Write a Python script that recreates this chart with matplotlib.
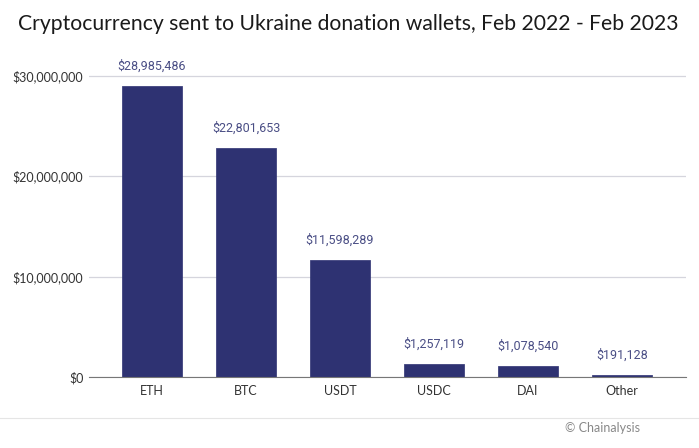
import matplotlib
matplotlib.use("Agg")
import matplotlib.pyplot as plt

coins = ["ETH", "BTC", "USDT", "USDC", "DAI", "Other"]
sent = [28985486, 22801653, 11598289, 1257119, 1078540, 191128]
yticks = [0, 10000000, 20000000, 30000000]
ytick_labels = ["$0", "$10,000,000", "$20,000,000", "$30,000,000"]

plt.rcParams['font.family'] = ['Lato', 'DejaVu Sans']

fig = plt.figure(figsize=(6.99, 4.48), dpi=100)
ax = fig.add_axes([89 / 699, 1 - 377 / 448, 597 / 699, 307 / 448])

# rounded edge gives the slightly soft bar corners
bars = ax.bar(range(len(coins)), sent, width=0.63, color="#2e3272", edgecolor="#2e3272", linewidth=0.5)
for b in bars:
    b.set_joinstyle("round")
for i, v in enumerate(sent):
    ax.annotate("${:,}".format(v), (i, v), xytext=(0, 9.5), textcoords="offset points",
                ha="center", va="bottom", fontsize=9, color="#4a4e85", family="Roboto")

ax.set_xlim(-0.67, 5.68)
ax.set_ylim(0, 30000000 * 307 / 301.5)
ax.set_xticks(range(len(coins)))
ax.set_xticklabels(coins, fontsize=9, color="#333333")
ax.set_yticks(yticks)
ax.set_yticklabels(ytick_labels, fontsize=9, color="#333333")
ax.tick_params(length=0)
ax.tick_params(axis="x", pad=6)
ax.tick_params(axis="y", pad=4)
ax.grid(axis="y", color="#d5d5dd", linewidth=0.9)
ax.set_axisbelow(True)
for s in ["top", "right", "left"]:
    ax.spines[s].set_visible(False)
ax.spines["bottom"].set_color("#777777")

fig.text(348.5 / 699, 1 - 24 / 448, "Cryptocurrency sent to Ukraine donation wallets, Feb 2022 - Feb 2023",
         ha="center", va="center", fontsize=15.2, color="#1a1a1a")
fig.add_artist(plt.Line2D([0, 1], [1 - 418 / 448, 1 - 418 / 448], color="#e5e5e5", linewidth=0.8))
fig.text(640 / 699, 1 - 428 / 448, "© Chainalysis", ha="right", va="center", fontsize=9, color="#888888")

fig.savefig("out.png", dpi=100)
